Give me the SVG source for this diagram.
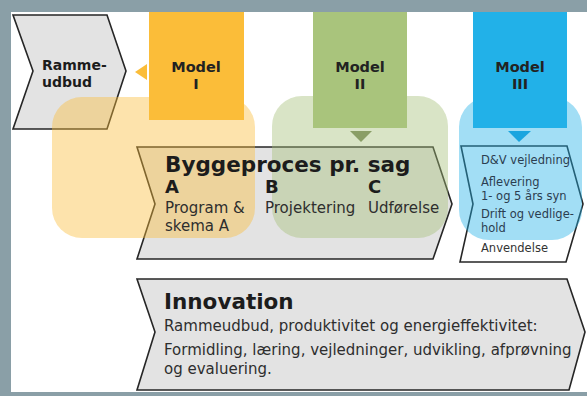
<svg xmlns="http://www.w3.org/2000/svg" width="587" height="396" viewBox="0 0 587 396">
  <style>
    .chev { stroke: #262626; stroke-width: 1.6; stroke-linejoin: miter; }
    .gray { fill: #e3e3e3; }
    .white { fill: #ffffff; }
    .halo { opacity: 0.42; }
    .t { font-family: "DejaVu Sans", Verdana, sans-serif; fill: #1c1c1c; }
    .b { font-weight: bold; }
    .body { font-size: 15px; fill: #2e2e2e; }
    .small { font-size: 11.5px; fill: #2b3d50; }
    .model { font-size: 14.5px; font-weight: bold; fill: #222; text-anchor: middle; }
  </style>
  <rect width="587" height="396" fill="#ffffff"/>
  <!-- frame -->
  <rect x="0" y="0" width="587" height="12" fill="#8a9fa7"/>
  <rect x="0" y="0" width="11" height="396" fill="#8a9fa7"/>
  <rect x="0" y="392" width="587" height="4" fill="#8a9fa7"/>

  <g id="rammeudbud">
    <polygon class="chev gray" points="13,15 107,15 126,71 107,129 13,129 33,71"/>
  </g>
  <g id="byggeproces">
    <polygon class="chev gray" points="137,147 433,147 452,204 433,259 137,259 155,204"/>
  </g>
  <g id="drift">
    <polygon class="chev white" points="461,146 567,146 583,204 566,262 460,262 473,204"/>
  </g>
  <g id="innovation">
    <polygon class="chev gray" points="137,279 567,279 585,332 569,390 137,390 155,332"/>
    <text class="t b" x="164" y="309" font-size="21.5">Innovation</text>
    <text class="t body" x="164" y="331">Rammeudbud, produktivitet og energieffektivitet:</text>
    <text class="t body" x="164" y="355">Formidling, læring, vejledninger, udvikling, afprøvning</text>
    <text class="t body" x="164" y="374">og evaluering.</text>
  </g>

  <!-- translucent phase areas -->
  <g id="halo-1"><rect class="halo" x="52" y="97" width="203" height="141" rx="30" fill="#fbbc3a"/></g>
  <g id="halo-2"><rect class="halo" x="272" y="96" width="176" height="142" rx="30" fill="#a4bf76"/></g>
  <g id="halo-3"><rect class="halo" x="459" y="97" width="123" height="143" rx="30" fill="#22b1e8"/></g>

  <g id="model-1">
    <rect x="149" y="12" width="95" height="108" fill="#fbbd39"/>
    <text class="t model" x="196" y="72">Model</text>
    <text class="t model" x="196" y="89">I</text>
  </g>
  <g id="model-2">
    <rect x="313" y="12" width="94" height="116" fill="#a9c47c"/>
    <text class="t model" x="360" y="72">Model</text>
    <text class="t model" x="360" y="89">II</text>
  </g>
  <g id="model-3">
    <rect x="473" y="12" width="94" height="116" fill="#22b1e8"/>
    <text class="t model" x="520" y="72">Model</text>
    <text class="t model" x="520" y="89">III</text>
  </g>

  <g id="connectors">
    <polygon points="135,72 147,64 147,80" fill="#fbbd39"/>
    <polygon points="350,131 372,131 361,142" fill="#8a9e66"/>
    <polygon points="508,131 531,131 519,142" fill="#1aa5df"/>
  </g>

  <!-- texts on top -->
  <g id="rammeudbud-text">
    <text class="t b" x="42" y="70" font-size="14">Ramme-</text>
    <text class="t b" x="42" y="87" font-size="14">udbud</text>
  </g>
  <g id="byggeproces-text">
    <text class="t b" x="165" y="172" font-size="21.5">Byggeproces pr. sag</text>
    <text class="t b" x="165" y="193" font-size="18">A</text>
    <text class="t b" x="265" y="193" font-size="18">B</text>
    <text class="t b" x="368" y="193" font-size="18">C</text>
    <text class="t body" x="165" y="213">Program &amp;</text>
    <text class="t body" x="165" y="231">skema A</text>
    <text class="t body" x="265" y="213">Projektering</text>
    <text class="t body" x="368" y="213">Udførelse</text>
  </g>
  <g id="drift-text">
    <text class="t small" x="481" y="164">D&amp;V vejledning</text>
    <text class="t small" x="481" y="186">Aflevering</text>
    <text class="t small" x="481" y="200">1- og 5 års syn</text>
    <text class="t small" x="481" y="218">Drift og vedlige-</text>
    <text class="t small" x="481" y="232">hold</text>
    <text class="t small" x="481" y="252" style="fill:#333">Anvendelse</text>
  </g>
</svg>
